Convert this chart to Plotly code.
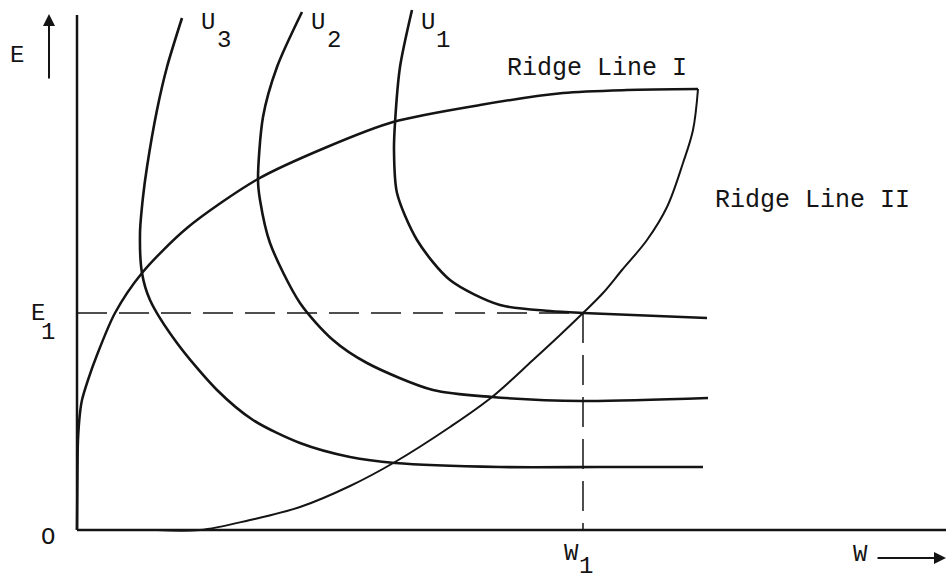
import plotly.graph_objects as go

# ---- data (W = labour/work, E = earnings/income) ----
W1 = 50.6
E1 = 21.7

ridge1_w = [0.0, 0.05, 0.1, 0.3, 0.5, 1.1, 2.0, 3.8, 6.5, 11.0, 18.1, 25.0, 31.6, 40.3, 48.6, 55.0, 62.1]
ridge1_e = [0.0, 6.0, 9.0, 11.7, 13.0, 15.0, 17.5, 21.7, 25.7, 30.2, 35.1, 38.3, 40.8, 42.5, 43.7, 44.0, 44.1]

ridge2_w = [8.0, 12.3, 17.3, 22.3, 27.3, 31.8, 37.3, 41.5, 45.6, 48.2, 50.6, 52.6, 54.5, 57.0, 59.0, 60.6, 61.6, 62.1]
ridge2_e = [0.0, 0.0, 1.0, 2.3, 4.4, 6.8, 10.3, 13.3, 17.0, 19.4, 21.7, 23.7, 26.0, 29.0, 32.3, 36.7, 40.0, 44.1]

u1_w = [33.5, 32.3, 31.8, 31.7, 32.0, 34.0, 37.3, 42.3, 47.3, 50.6, 63.0]
u1_e = [52.0, 46.3, 40.7, 38.0, 33.7, 29.0, 25.0, 22.5, 21.9, 21.7, 21.2]

u2_w = [22.5, 20.0, 18.6, 18.1, 18.3, 19.3, 22.3, 25.6, 29.0, 35.6, 41.5, 50.6, 63.1]
u2_e = [51.8, 46.3, 41.3, 35.0, 33.0, 28.7, 22.7, 19.0, 16.7, 14.0, 13.3, 12.9, 13.2]

u3_w = [10.5, 9.0, 8.0, 7.0, 6.6, 6.3, 6.5, 7.3, 10.0, 14.0, 17.6, 22.3, 27.3, 31.8, 42.3, 52.3, 62.6]
u3_e = [51.2, 46.3, 42.0, 36.3, 33.3, 29.7, 25.7, 23.0, 18.7, 14.0, 11.0, 8.7, 7.3, 6.7, 6.3, 6.3, 6.3]

W_MAX = 86.9
E_MAX = 51.5

INK = "#141414"
FONT = "Courier New, Liberation Mono, monospace"

fig = go.Figure()

# axes drawn as lines from the origin
fig.add_trace(go.Scatter(x=[0, 0], y=[0, E_MAX], mode="lines", line=dict(color=INK, width=2.5)))
fig.add_trace(go.Scatter(x=[0, W_MAX], y=[0, 0], mode="lines", line=dict(color=INK, width=2.5)))

# dashed guides
fig.add_trace(go.Scatter(x=[0, W1], y=[E1, E1], mode="lines",
                         line=dict(color=INK, width=1.5, dash="30px,12px")))
fig.add_trace(go.Scatter(x=[W1, W1], y=[E1, 0], mode="lines",
                         line=dict(color=INK, width=1.5, dash="30px,12px")))

curves = [
    (ridge1_w, ridge1_e, 2.5, 0.8),
    (ridge2_w, ridge2_e, 2.0, 1.0),
    (u1_w, u1_e, 2.6, 0.8),
    (u2_w, u2_e, 2.6, 0.8),
    (u3_w, u3_e, 2.6, 0.8),
]
for xs, ys, w, sm in curves:
    fig.add_trace(go.Scatter(x=xs, y=ys, mode="lines",
                             line=dict(color=INK, width=w, shape="spline", smoothing=sm)))

def label(text, x, y, xanchor="center", size=24):
    fig.add_annotation(x=x, y=y, xref="x", yref="y", text=text, showarrow=False,
                       xanchor=xanchor, yanchor="middle",
                       font=dict(family=FONT, size=size, color=INK))

# curve labels
label("U", 13.1, 50.8); label("3", 14.7, 49.0)
label("U", 24.1, 50.8); label("2", 25.7, 49.0)
label("U", 35.1, 50.8); label("1", 36.6, 49.0)
label("Ridge Line I", 42.8, 46.2, xanchor="left", size=25)
label("Ridge Line II", 63.6, 33.0, xanchor="left", size=25)

# axis labels
label("E", -6.0, 47.5)
label("O", -2.9, -0.7)
label("E", -3.9, E1); label("1", -2.9, E1 - 1.9)
label("W", W1 - 1.2, -2.3); label("1", W1 + 0.3, -3.6)
label("W", 78.3, -2.4)

# axis arrows
fig.add_annotation(x=-2.8, y=51.6, ax=-2.8, ay=45.0, xref="x", yref="y", axref="x", ayref="y",
                   text="", showarrow=True, arrowhead=2, arrowsize=1.2, arrowwidth=2, arrowcolor=INK)
fig.add_annotation(x=86.9, y=-2.8, ax=79.9, ay=-2.8, xref="x", yref="y", axref="x", ayref="y",
                   text="", showarrow=True, arrowhead=2, arrowsize=1.2, arrowwidth=2, arrowcolor=INK)

fig.update_layout(
    width=946, height=579,
    margin=dict(l=0, r=0, t=0, b=0),
    paper_bgcolor="white", plot_bgcolor="white",
    showlegend=False,
    hovermode=False,
    xaxis=dict(visible=False, range=[-7.7, 86.9], fixedrange=True),
    yaxis=dict(visible=False, range=[-4.9, 53.0], fixedrange=True),
)

fig.write_html(
    "out.html",
    config={"displayModeBar": False, "staticPlot": True},
    post_script="document.body.style.margin='0';document.body.style.overflow='hidden';",
)
